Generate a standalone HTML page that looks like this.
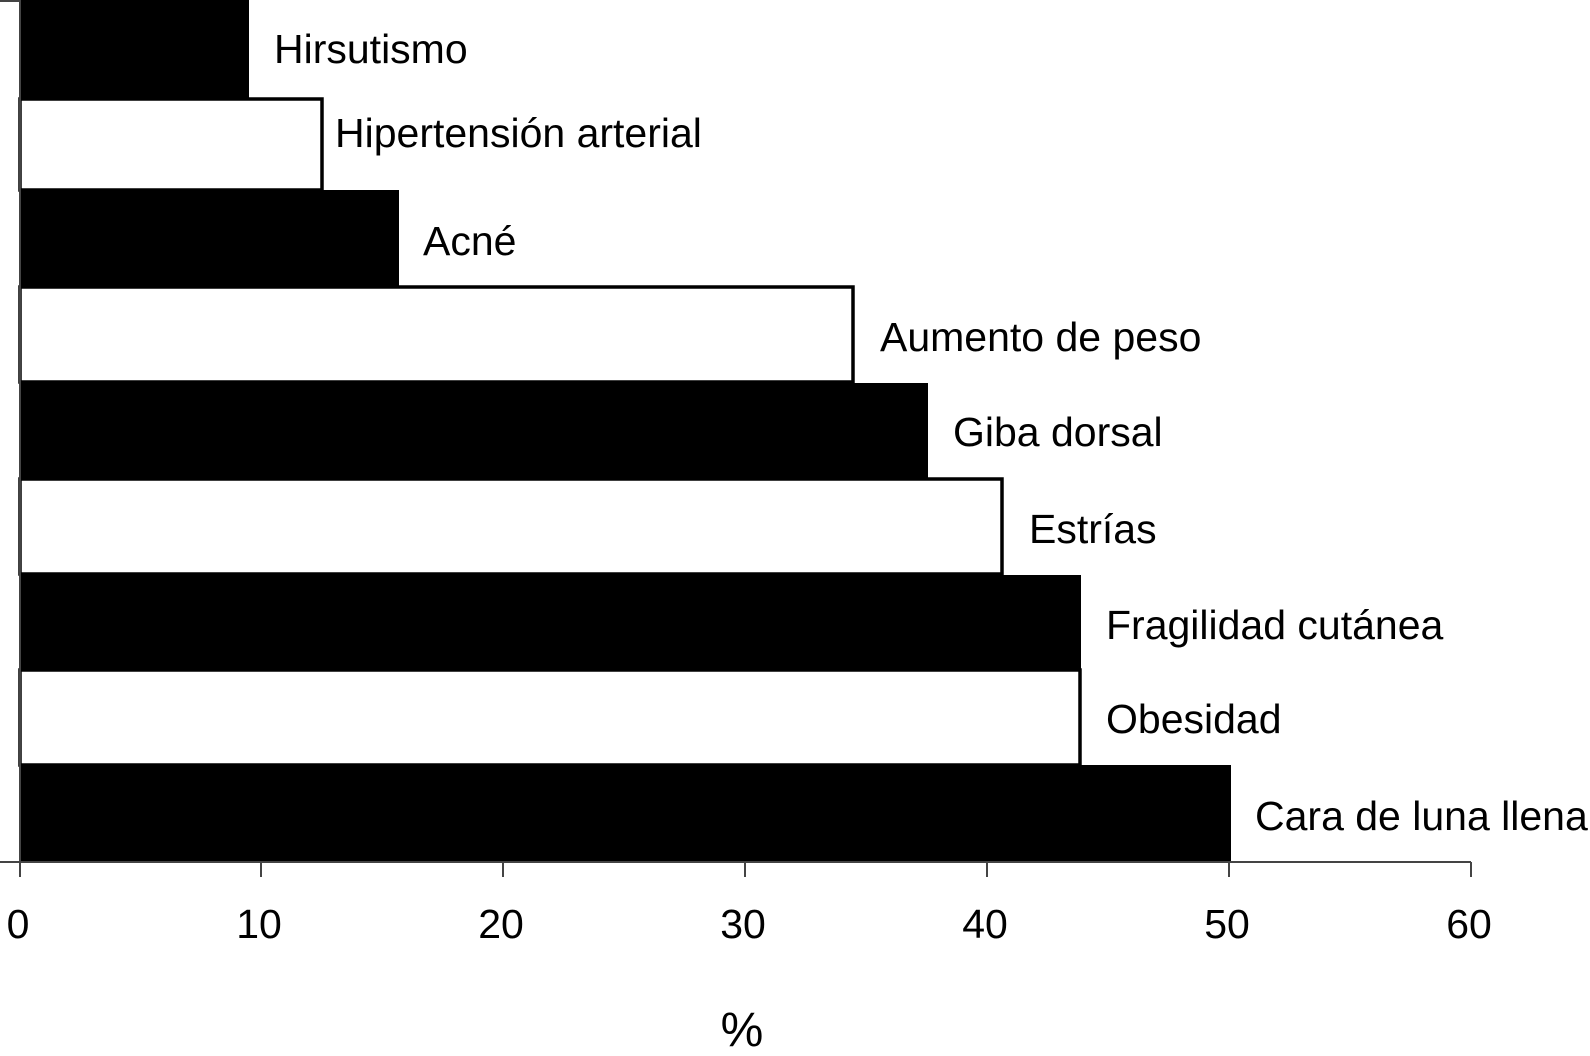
<!DOCTYPE html>
<html><head><meta charset="utf-8"><style>html,body{margin:0;padding:0;background:#fff}svg{display:block}</style></head>
<body>
<svg width="1590" height="1056" viewBox="0 0 1590 1056" xmlns="http://www.w3.org/2000/svg" font-family="Liberation Sans, Arial, sans-serif" font-size="41">
<rect width="1590" height="1056" fill="#fff"/>
<g stroke="#000" stroke-width="3.5">
<rect x="20" y="99" width="302" height="91" fill="#fff"/>
<rect x="20" y="287" width="833" height="95" fill="#fff"/>
<rect x="20" y="479" width="982" height="95" fill="#fff"/>
<rect x="20" y="670" width="1060" height="95" fill="#fff"/>
</g>
<g fill="#000">
<rect x="19" y="0" width="230" height="98"/>
<rect x="19" y="190" width="380" height="97"/>
<rect x="19" y="383" width="909" height="96"/>
<rect x="19" y="575" width="1062" height="96"/>
<rect x="19" y="765" width="1212" height="98"/>
</g>
<g stroke="#444" stroke-width="2" fill="none">
<line x1="20" y1="0" x2="20" y2="863"/>
<line x1="0" y1="1" x2="20" y2="1"/>
<line x1="0" y1="862" x2="1471" y2="862"/>
<line x1="20" y1="862" x2="20" y2="877"/>
<line x1="261" y1="862" x2="261" y2="877"/>
<line x1="503" y1="862" x2="503" y2="877"/>
<line x1="745" y1="862" x2="745" y2="877"/>
<line x1="987" y1="862" x2="987" y2="877"/>
<line x1="1229" y1="862" x2="1229" y2="877"/>
<line x1="1471" y1="862" x2="1471" y2="877"/>
</g>
<g fill="#000">
<text x="274" y="63">Hirsutismo</text>
<text x="335" y="147">Hipertensión arterial</text>
<text x="423" y="255">Acné</text>
<text x="880" y="351">Aumento de peso</text>
<text x="953" y="446">Giba dorsal</text>
<text x="1029" y="543">Estrías</text>
<text x="1106" y="639">Fragilidad cutánea</text>
<text x="1106" y="733">Obesidad</text>
<text x="1255" y="830">Cara de luna llena</text>
</g>
<g fill="#000" text-anchor="middle">
<text x="18" y="938">0</text>
<text x="259" y="938">10</text>
<text x="501" y="938">20</text>
<text x="743" y="938">30</text>
<text x="985" y="938">40</text>
<text x="1227" y="938">50</text>
<text x="1469" y="938">60</text>
<text x="742" y="1046" font-size="48">%</text>
</g>
</svg>
</body></html>
